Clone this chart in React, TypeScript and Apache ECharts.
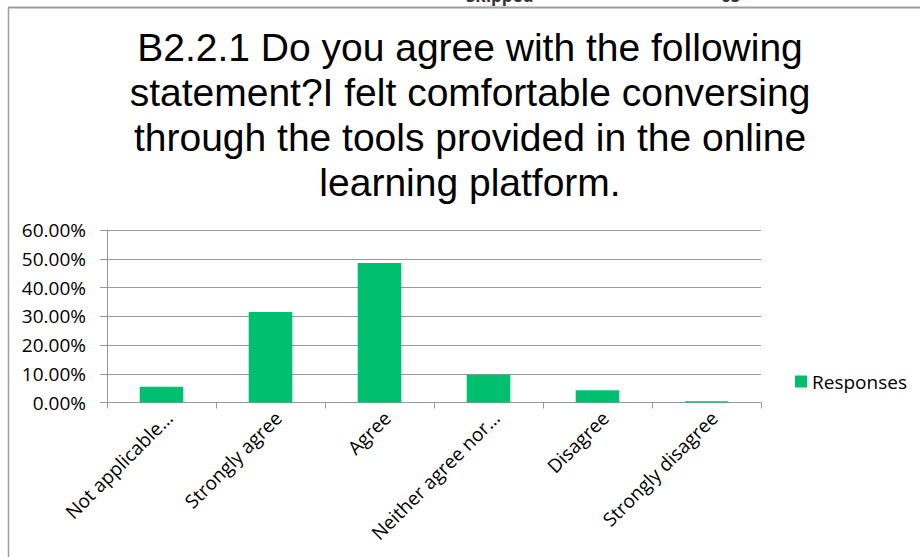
import React, { useEffect, useRef } from "react";
import * as echarts from "echarts";

const categories = [
  "Not applicable…",
  "Strongly agree",
  "Agree",
  "Neither agree nor…",
  "Disagree",
  "Strongly disagree",
];
const responses = [5.45, 31.5, 48.5, 9.65, 4.3, 0.45];
const titleLines = [
  "B2.2.1 Do you agree with the following",
  "statement?I felt comfortable conversing",
  "through the tools provided in the online",
  "learning platform.",
];
const seriesName = "Responses";

export default function App() {
  const ref = useRef<HTMLDivElement>(null);
  useEffect(() => {
    if (!ref.current) return;
    const chart = echarts.init(ref.current, null, { renderer: "svg" });
    const labelFont = "'Open Sans', 'Noto Sans', sans-serif";
    chart.setOption({
      animation: false,
      backgroundColor: "#ffffff",
      title: {
        text: titleLines.join("\n"),
        left: 465,
        top: 20,
        textAlign: "center",
        textStyle: {
          fontFamily: "'Liberation Sans', Arial, sans-serif",
          fontSize: 39,
          fontWeight: "normal",
          color: "#000000",
          lineHeight: 45,
        },
      },
      legend: {
        data: [seriesName],
        left: 795,
        top: 372,
        padding: 0,
        itemWidth: 12,
        itemHeight: 12,
        itemGap: 6,
        icon: "rect",
        textStyle: { fontFamily: labelFont, fontSize: 19, color: "#000000" },
      },
      grid: { left: 107, top: 230, width: 654, height: 172.5, containLabel: false },
      xAxis: {
        type: "category",
        data: categories,
        boundaryGap: true,
        axisLine: { show: true, lineStyle: { color: "#999999", width: 1 } },
        axisTick: { show: true, length: 6, alignWithLabel: false, lineStyle: { color: "#999999" } },
        axisLabel: {
          rotate: 45,
          interval: 0,
          margin: 20,
          padding: [0, -11, 0, 0],
          fontFamily: labelFont,
          fontSize: 19,
          color: "#000000",
        },
      },
      yAxis: {
        type: "value",
        min: 0,
        max: 60,
        interval: 10,
        axisLine: { show: true, lineStyle: { color: "#999999", width: 1 } },
        axisTick: { show: true, length: 7, lineStyle: { color: "#999999" } },
        splitLine: { show: true, lineStyle: { color: "#999999", width: 1 } },
        axisLabel: {
          margin: 21,
          fontFamily: labelFont,
          fontSize: 19,
          color: "#000000",
          formatter: (v: number) => v.toFixed(2) + "%",
        },
      },
      series: [
        {
          name: seriesName,
          type: "bar",
          data: responses,
          barWidth: "40%",
          itemStyle: { color: "#00BF6F" },
        },
      ],
      graphic: [
        {
          type: "line",
          shape: { x1: 8, y1: 7.5, x2: 920, y2: 7.5 },
          style: { stroke: "#9e9e9e", lineWidth: 2 },
        },
        {
          type: "line",
          shape: { x1: 8.5, y1: 7.5, x2: 8.5, y2: 557 },
          style: { stroke: "#9e9e9e", lineWidth: 1.5 },
        },
        {
          type: "text",
          x: 466,
          y: 4,
          style: {
            text: "Skipped",
            fontFamily: labelFont,
            fontSize: 17,
            fontWeight: "bold",
            fill: "#333333",
            textVerticalAlign: "bottom",
          },
        },
        {
          type: "text",
          x: 721,
          y: 4,
          style: {
            text: "65",
            fontFamily: labelFont,
            fontSize: 17,
            fontWeight: "bold",
            fill: "#333333",
            textVerticalAlign: "bottom",
          },
        },
      ],
    });
    return () => chart.dispose();
  }, []);
  return (
    <div
      ref={ref}
      style={{ position: "absolute", left: 0, top: 0, width: 920, height: 557 }}
    />
  );
}
